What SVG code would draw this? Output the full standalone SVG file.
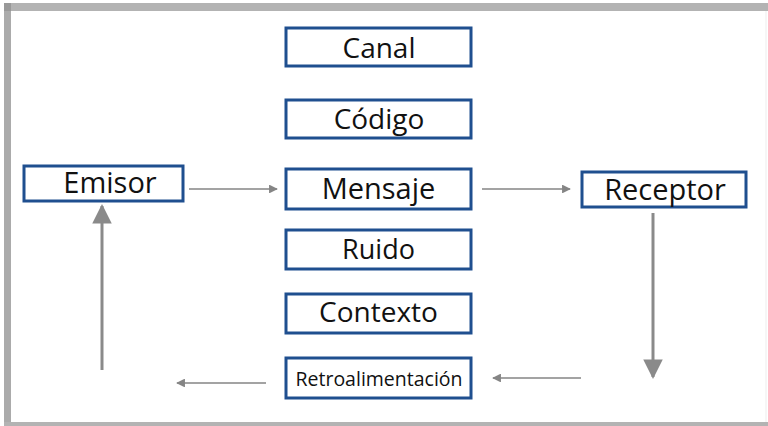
<svg xmlns="http://www.w3.org/2000/svg" width="768" height="426" viewBox="0 0 768 426">
<style>
.box{fill:#fff;stroke:#1f4f8f;stroke-width:3}
.t{font-family:"Open Sans","Noto Sans",sans-serif;fill:#111;text-anchor:middle}
.thin{stroke:#858585;stroke-width:1.6;fill:none}
.thick{stroke:#8a8a8a;stroke-width:3;fill:none}
</style>
<defs>
<marker id="sm" viewBox="0 0 10 10" refX="9" refY="5" markerWidth="5.5" markerHeight="5.5" orient="auto" markerUnits="strokeWidth"><path d="M0,0 L10,5 L0,10 z" fill="#858585"/></marker>
<marker id="lg" viewBox="0 0 10 10" refX="9" refY="5" markerWidth="6.5" markerHeight="7" orient="auto" markerUnits="strokeWidth"><path d="M0,0 L10,5 L0,10 z" fill="#8a8a8a"/></marker>
</defs>
<rect width="768" height="426" fill="#fff"/>
<rect x="4" y="3" width="764" height="8" fill="#b3b3b3"/>
<rect x="4" y="3" width="7" height="423" fill="#ababab"/>
<rect x="4" y="3" width="7" height="8" fill="#999"/>
<rect x="4" y="422" width="764" height="4" fill="#b3b3b3"/>
<rect x="765.5" y="11" width="1" height="411" fill="#eee"/>
<g id="connectors">
<line class="thin" x1="189" y1="189" x2="277" y2="189" marker-end="url(#sm)"/>
<line class="thin" x1="482" y1="189" x2="570" y2="189" marker-end="url(#sm)"/>
<line class="thick" x1="653" y1="213" x2="653" y2="377" marker-end="url(#lg)"/>
<line class="thin" x1="581" y1="378" x2="493" y2="378" marker-end="url(#sm)"/>
<line class="thin" x1="266" y1="383" x2="177" y2="383" marker-end="url(#sm)"/>
<line class="thick" x1="102" y1="370" x2="102" y2="206" marker-end="url(#lg)"/>
</g>
<g id="canal"><rect class="box" x="286" y="28" width="185" height="38"/><text class="t" x="379" y="58" font-size="28">Canal</text></g>
<g id="codigo"><rect class="box" x="286" y="100" width="185" height="38"/><text class="t" x="379" y="129" font-size="28">Código</text></g>
<g id="emisor"><rect class="box" x="24" y="166" width="159" height="35"/><text class="t" x="110" y="192.5" font-size="29">Emisor</text></g>
<g id="mensaje"><rect class="box" x="286" y="169" width="185" height="40"/><text class="t" x="378.5" y="199" font-size="29">Mensaje</text></g>
<g id="receptor"><rect class="box" x="582" y="172" width="164" height="35"/><text class="t" x="665" y="200" font-size="29">Receptor</text></g>
<g id="ruido"><rect class="box" x="286" y="230" width="185" height="39"/><text class="t" x="378.5" y="259" font-size="27">Ruido</text></g>
<g id="contexto"><rect class="box" x="286" y="294" width="185" height="39"/><text class="t" x="378.5" y="322" font-size="28">Contexto</text></g>
<g id="retroalimentacion"><rect class="box" x="286" y="358" width="185" height="40"/><text class="t" x="379" y="386" font-size="19.5">Retroalimentación</text></g>
</svg>
